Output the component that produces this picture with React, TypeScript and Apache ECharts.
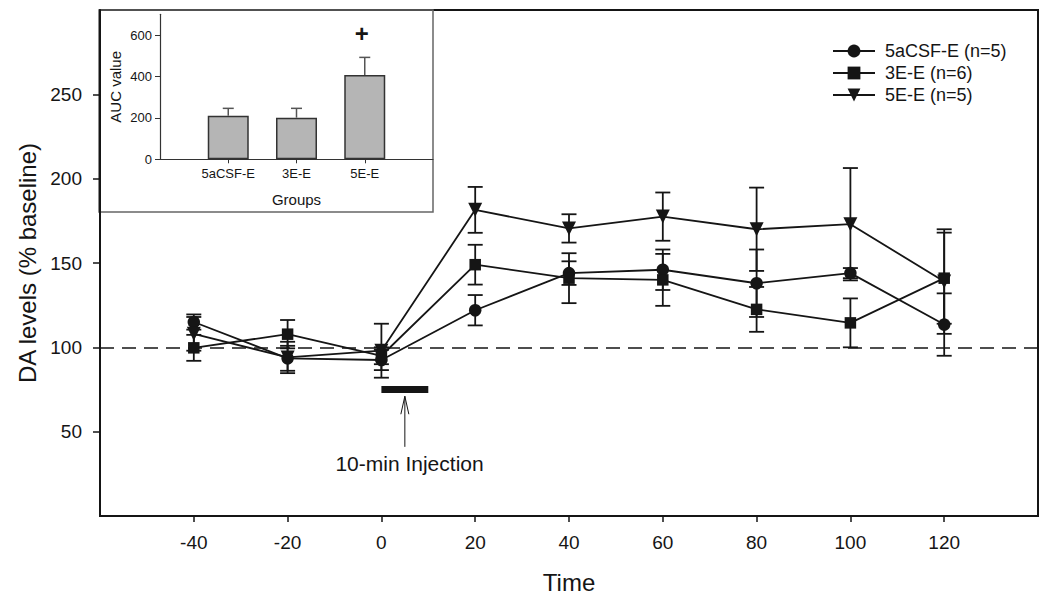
import React, { useEffect, useRef } from 'react';
import * as echarts from 'echarts';

// ---- main chart data ----
const timePoints = [-40, -20, 0, 20, 40, 60, 80, 100, 120];
const csfMean = [115, 93.5, 92.5, 122, 144, 146, 138, 144, 113.5];
const csfSem = [4.5, 7.4, 6, 9, 7, 12, 20, 3, 18.5];
const e3Mean = [99.7, 107.8, 95, 149, 141, 140, 122.5, 114.5, 141];
const e3Sem = [7.7, 8.4, 5, 11.8, 14.8, 15.4, 13.3, 14.5, 27];
const e5Mean = [108, 94, 98, 181.5, 170.5, 177.5, 170, 173, 139];
const e5Sem = [10, 9.3, 16, 13.6, 8.4, 14.3, 24.7, 33.3, 31];
const seriesNames = ['5aCSF-E (n=5)', '3E-E (n=6)', '5E-E (n=5)'];
const xTicks = [-40, -20, 0, 20, 40, 60, 80, 100, 120];
const yTicks = [50, 100, 150, 200, 250];
const baseline = 100;

// ---- injection annotation ----
const injectionStart = 0;
const injectionEnd = 10;
const injectionLevel = 75;
const arrowX = 5;
const arrowFrom = 41;
const arrowTo = 71;
const injectionLabel = '10-min Injection';
const labelX = 6;
const labelY = 31;

// ---- inset data ----
const aucGroups = ['5aCSF-E', '3E-E', '5E-E'];
const aucValues = [210, 201, 407];
const aucErrors = [36, 45, 85];
const aucMarks = ['', '', '+'];
const aucTicks = [0, 200, 400, 600];
const aucPositions = [1, 2, 3];

const INK = '#151515';
const FONT = '"Liberation Sans", Arial, sans-serif';

function errorRenderer(capHalf: number, color: string, width: number) {
  return (params: any, api: any) => {
    const x = api.value(0);
    const y = api.value(1);
    const e = api.value(2);
    const top = api.coord([x, y + e]);
    const bot = api.coord([x, y - e]);
    const style = { stroke: color, lineWidth: width };
    return {
      type: 'group',
      children: [
        { type: 'line', shape: { x1: top[0], y1: top[1], x2: bot[0], y2: bot[1] }, style },
        { type: 'line', shape: { x1: top[0] - capHalf, y1: top[1], x2: top[0] + capHalf, y2: top[1] }, style },
        { type: 'line', shape: { x1: bot[0] - capHalf, y1: bot[1], x2: bot[0] + capHalf, y2: bot[1] }, style },
      ],
    };
  };
}

export default function App() {
  const ref = useRef<HTMLDivElement>(null);
  useEffect(() => {
    if (!ref.current) return;
    const chart = echarts.init(ref.current, undefined, { renderer: 'svg' });
    const means = [csfMean, e3Mean, e5Mean];
    const sems = [csfSem, e3Sem, e5Sem];
    const symbols = ['circle', 'rect', 'triangle'];
    const sizes = [12.5, 11.5, 14];
    const rotations = [0, 0, 180];

    const lineSeries: any[] = seriesNames.map((name, k) => ({
      name,
      type: 'line',
      xAxisIndex: 0,
      yAxisIndex: 0,
      data: timePoints.map((t, i) => [t, means[k][i]]),
      symbol: symbols[k],
      symbolSize: sizes[k],
      symbolRotate: rotations[k],
      showAllSymbol: true,
      lineStyle: { color: INK, width: 1.8 },
      itemStyle: { color: INK },
      z: 5,
      markLine:
        k === 0
          ? {
              silent: true,
              symbol: ['none', 'none'],
              label: { show: false },
              lineStyle: { type: [14, 8], width: 1.5, color: INK },
              data: [{ yAxis: baseline }],
            }
          : undefined,
    }));

    const errSeries: any[] = seriesNames.map((name, k) => ({
      name: 'err' + k,
      type: 'custom',
      xAxisIndex: 0,
      yAxisIndex: 0,
      data: timePoints.map((t, i) => [t, means[k][i], sems[k][i]]),
      encode: { x: 0, y: 1 },
      renderItem: errorRenderer(7.5, INK, 1.8),
      z: 4,
    }));

    const annotation = {
      name: 'injection',
      type: 'custom',
      xAxisIndex: 0,
      yAxisIndex: 0,
      data: [[injectionStart, injectionLevel]],
      encode: { x: 0, y: 1 },
      clip: false,
      renderItem: (params: any, api: any) => {
        const p0 = api.coord([injectionStart, injectionLevel]);
        const p1 = api.coord([injectionEnd, injectionLevel]);
        const a = api.coord([arrowX, arrowFrom]);
        const b = api.coord([arrowX, arrowTo]);
        const t = api.coord([labelX, labelY]);
        return {
          type: 'group',
          children: [
            { type: 'rect', shape: { x: p0[0], y: p0[1] - 3.5, width: p1[0] - p0[0], height: 7 }, style: { fill: INK } },
            { type: 'line', shape: { x1: a[0], y1: a[1], x2: b[0], y2: b[1] }, style: { stroke: INK, lineWidth: 1 } },
            {
              type: 'polyline',
              shape: { points: [[b[0] - 4, b[1] + 18], [b[0], b[1]], [b[0] + 4, b[1] + 18]] },
              style: { stroke: INK, lineWidth: 1, fill: 'none' },
            },
            {
              type: 'text',
              x: t[0],
              y: t[1],
              style: { text: injectionLabel, fill: INK, fontSize: 21, fontFamily: FONT, align: 'center', verticalAlign: 'middle' },
            },
          ],
        };
      },
    };

    const insetBars = {
      name: 'AUC',
      type: 'bar',
      xAxisIndex: 1,
      yAxisIndex: 1,
      data: aucPositions.map((p, i) => [p, aucValues[i]]),
      barWidth: 41,
      itemStyle: { color: '#b5b5b5', borderColor: '#333', borderWidth: 1.5 },
      z: 3,
    };

    const insetErr = {
      name: 'AUCerr',
      type: 'custom',
      xAxisIndex: 1,
      yAxisIndex: 1,
      data: aucPositions.map((p, i) => [p, aucValues[i], aucErrors[i], i]),
      encode: { x: 0, y: 1 },
      clip: false,
      z: 4,
      renderItem: (params: any, api: any) => {
        const x = api.value(0);
        const y = api.value(1);
        const e = api.value(2);
        const idx = api.value(3);
        const base = api.coord([x, y]);
        const top = api.coord([x, y + e]);
        const style = { stroke: '#555', lineWidth: 1.5 };
        const children: any[] = [
          { type: 'line', shape: { x1: base[0], y1: base[1], x2: top[0], y2: top[1] }, style },
          { type: 'line', shape: { x1: top[0] - 5.5, y1: top[1], x2: top[0] + 5.5, y2: top[1] }, style },
        ];
        const mark = aucMarks[idx];
        if (mark) {
          children.push({
            type: 'text',
            x: top[0] - 3,
            y: top[1] - 24,
            style: { text: mark, fill: INK, fontSize: 24, fontWeight: 'bold', fontFamily: FONT, align: 'center', verticalAlign: 'middle' },
          });
        }
        return { type: 'group', children };
      },
    };

    const option: any = {
      animation: false,
      backgroundColor: '#ffffff',
      textStyle: { fontFamily: FONT, color: INK },
      grid: [
        { left: 100, top: 10, right: 12, bottom: 87, show: true, borderColor: INK, borderWidth: 2, backgroundColor: 'transparent' },
        { left: 160, top: 14.3, width: 273, height: 145 },
      ],
      legend: {
        data: seriesNames,
        orient: 'vertical',
        left: 827,
        top: 37,
        itemWidth: 42,
        itemHeight: 16,
        itemGap: 4,
        textStyle: { fontSize: 18, fontFamily: FONT, color: INK, padding: [0, 0, 0, 5], lineHeight: 18 },
      },
      xAxis: [
        {
          type: 'value',
          gridIndex: 0,
          min: -60,
          max: 140,
          interval: 20,
          name: 'Time',
          nameLocation: 'middle',
          nameGap: 54,
          nameTextStyle: { fontSize: 24, fontFamily: FONT, color: INK },
          axisLine: { show: true, onZero: false, lineStyle: { color: INK, width: 2 } },
          axisTick: { show: true, length: 6, customValues: xTicks, lineStyle: { color: INK, width: 1.5 } },
          axisLabel: { customValues: xTicks, fontSize: 19, margin: 17, color: INK, fontFamily: FONT },
          splitLine: { show: false },
        },
        {
          type: 'value',
          gridIndex: 1,
          min: 0,
          max: 4,
          name: 'Groups',
          nameLocation: 'middle',
          nameGap: 33,
          nameTextStyle: { fontSize: 15, fontFamily: FONT, color: INK },
          axisLine: { show: true, onZero: false, lineStyle: { color: '#333', width: 1.2 } },
          axisTick: { show: true, length: 4, customValues: aucPositions, lineStyle: { color: '#333' } },
          axisLabel: {
            customValues: aucPositions,
            fontSize: 13,
            margin: 8,
            color: INK,
            fontFamily: FONT,
            formatter: (v: number) => aucGroups[Math.round(v) - 1] || '',
          },
          splitLine: { show: false },
        },
      ],
      yAxis: [
        {
          type: 'value',
          gridIndex: 0,
          min: 0,
          max: 300,
          interval: 50,
          name: 'DA levels (% baseline)',
          nameLocation: 'middle',
          nameGap: 58,
          nameTextStyle: { fontSize: 24, fontFamily: FONT, color: INK },
          axisLine: { show: true, onZero: false, lineStyle: { color: INK, width: 2 } },
          axisTick: { show: true, length: 7, customValues: yTicks, lineStyle: { color: INK, width: 1.5 } },
          axisLabel: { customValues: yTicks, fontSize: 19, margin: 18, color: INK, fontFamily: FONT },
          splitLine: { show: false },
        },
        {
          type: 'value',
          gridIndex: 1,
          min: 0,
          max: 700,
          interval: 100,
          name: 'AUC value',
          nameLocation: 'middle',
          nameGap: 37,
          nameTextStyle: { fontSize: 15, fontFamily: FONT, color: INK },
          axisLine: { show: true, onZero: false, lineStyle: { color: '#333', width: 1.2 } },
          axisTick: { show: true, length: 5, customValues: aucTicks, lineStyle: { color: '#333' } },
          axisLabel: { customValues: aucTicks, fontSize: 13, margin: 8, color: INK, fontFamily: FONT },
          splitLine: { show: false },
        },
      ],
      graphic: [
        {
          type: 'rect',
          shape: { x: 99, y: 10, width: 334, height: 202 },
          style: { fill: 'transparent', stroke: '#666', lineWidth: 1.5 },
          silent: true,
        },
      ],
      series: [...errSeries, ...lineSeries, annotation, insetBars, insetErr],
    };
    chart.setOption(option);
    return () => chart.dispose();
  }, []);
  return <div ref={ref} style={{ position: 'fixed', left: 0, top: 0, width: 1050, height: 603 }} />;
}
